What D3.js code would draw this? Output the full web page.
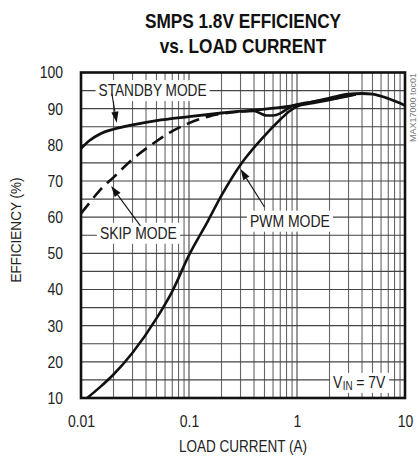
<!DOCTYPE html>
<html>
<head>
<meta charset="utf-8">
<script src="https://cdn.jsdelivr.net/npm/d3@7"></script>
<style>
  html, body { margin: 0; padding: 0; background: #fff; }
  svg { display: block; }
  text { font-family: "Liberation Sans", Arial, sans-serif; fill: #222; }
</style>
</head>
<body>
<svg id="chart" width="418" height="456"></svg>
<script>
// ---- data ----
const titleLines = ["SMPS 1.8V EFFICIENCY", "vs. LOAD CURRENT"];
const xTickValues = [0.01, 0.1, 1, 10];
const xTickLabels = ["0.01", "0.1", "1", "10"];
const yTickValues = [10, 20, 30, 40, 50, 60, 70, 80, 90, 100];
const yTickLabels = ["10", "20", "30", "40", "50", "60", "70", "80", "90", "100"];

const standbyX = [0.01, 0.012, 0.015, 0.02, 0.03, 0.05, 0.1, 0.2, 0.5, 1, 2, 3, 4, 5, 7, 10];
const standbyY = [79, 81.2, 83, 84.3, 85.5, 86.7, 87.8, 88.8, 89.9, 91, 92.9, 94.0, 94.2, 94.0, 92.8, 90.9];

const skipDashX = [0.01, 0.012, 0.015, 0.02, 0.03, 0.05, 0.07, 0.1, 0.15, 0.2, 0.3];
const skipDashY = [61, 64, 67.5, 71, 76, 81, 83.8, 86, 87.8, 88.6, 89.2];

const skipSolidX = [0.3, 0.4, 0.45, 0.52, 0.6, 0.7, 0.8, 0.92, 1.2, 1.6, 2, 3, 3.5];
const skipSolidY = [89.2, 89.4, 88.8, 88.1, 88.1, 88.7, 89.8, 90.9, 91.6, 92.2, 92.6, 93.6, 93.9];

const pwmX = [0.0114, 0.015, 0.02, 0.03, 0.05, 0.07, 0.1, 0.15, 0.2, 0.3, 0.5, 0.7, 0.85, 1, 1.5, 2, 3, 3.5];
const pwmY = [10, 13, 16.5, 22.5, 32, 39.5, 49.5, 59, 66, 74.5, 82.5, 87, 89.3, 90.6, 91.7, 92.4, 93.5, 93.9];

// annotations: label, anchor (data), arrow tail & tip (data)
const labels = [
  { text: "STANDBY MODE", x: 0.046, y: 95, dy: 0, w: 108,
    arrow: [[0.0193, 94.2], [0.0214, 86.1]] },
  { text: "SKIP MODE", x: 0.034, y: 55, dy: -2, w: 77,
    arrow: [[0.0355, 57.6], [0.019, 68.6]] },
  { text: "PWM MODE", x: 0.86, y: 60, dy: 4, w: 80,
    arrow: [[0.5, 62.8], [0.3, 73.3]] }
];

// ---- layout ----
const svg = d3.select("#chart");
const margin = { left: 81, right: 13, top: 72.5, bottom: 58 };
const W = 418, H = 456;
const x = d3.scaleLog().domain([0.01, 10]).range([margin.left, W - margin.right]);
const y = d3.scaleLinear().domain([10, 100]).range([H - margin.bottom, margin.top]);

// horizontally condense text (no narrow font installed)
function condense(sel, f) {
  sel.each(function () {
    const len = this.getComputedTextLength();
    d3.select(this).attr("textLength", len * f).attr("lengthAdjust", "spacingAndGlyphs");
  });
}
function fitWidth(sel, w) {
  sel.attr("textLength", w).attr("lengthAdjust", "spacingAndGlyphs");
}

// title
svg.append("g").selectAll("text").data(titleLines).join("text")
  .attr("x", 243).attr("y", (d, i) => 28 + i * 25)
  .attr("text-anchor", "middle")
  .style("font-size", "21px").style("font-weight", "bold").style("fill", "#111")
  .text(d => d)
  .call(condense, 0.82);

// grid
const gridX = [];
for (let dec = 0.01; dec < 10; dec *= 10) for (let k = 2; k <= 9; k++) gridX.push(dec * k);
const gridY = d3.range(15, 100, 5);

const g = svg.append("g");
g.append("g").selectAll("line").data(gridX).join("line")
  .attr("x1", d => x(d)).attr("x2", d => x(d))
  .attr("y1", y(10)).attr("y2", y(100))
  .attr("stroke", "#666").attr("stroke-width", 1.1);
g.append("g").selectAll("line").data(gridY).join("line")
  .attr("x1", x(0.01)).attr("x2", x(10))
  .attr("y1", d => y(d)).attr("y2", d => y(d))
  .attr("stroke", "#444").attr("stroke-width", 1.1);
g.append("g").selectAll("line").data([0.1, 1]).join("line")
  .attr("x1", d => x(d)).attr("x2", d => x(d))
  .attr("y1", y(10)).attr("y2", y(100))
  .attr("stroke", "#444").attr("stroke-width", 1.1);

// label boxes (white behind text)
const lblG = svg.append("g");
labels.forEach(l => {
  const t = lblG.append("text")
    .attr("x", x(l.x)).attr("y", y(l.y) + l.dy)
    .attr("text-anchor", "middle").attr("dominant-baseline", "central")
    .style("font-size", "17px").text(l.text)
    .call(fitWidth, l.w);
  const bb = t.node().getBBox();
  lblG.insert("rect", "text")
    .attr("x", bb.x - 3).attr("y", bb.y - 1)
    .attr("width", bb.width + 6).attr("height", bb.height + 2)
    .attr("fill", "#fff");
});

// VIN label (separate pieces: V, subscript IN, = 7V)
const vin = svg.append("g");
const vy = y(15) + 3;
const vRect = vin.append("rect").attr("fill", "#fff");
const v1 = vin.append("text").attr("x", 333).attr("y", vy).attr("dominant-baseline", "central")
  .style("font-size", "17px").text("V").call(condense, 0.82);
const v1w = v1.node().getComputedTextLength();
const v2 = vin.append("text").attr("x", 333 + v1w + 0.5).attr("y", vy + 3).attr("dominant-baseline", "central")
  .style("font-size", "12px").text("IN").call(condense, 0.82);
const v2w = v2.node().getComputedTextLength();
const v3 = vin.append("text").attr("x", 333 + v1w + v2w + 4).attr("y", vy).attr("dominant-baseline", "central")
  .style("font-size", "17px").text("= 7V").call(condense, 0.82);
const v3w = v3.node().getComputedTextLength();
vRect.attr("x", 330).attr("y", vy - 10).attr("width", v1w + v2w + v3w + 11).attr("height", 20);

// curves
const line = d3.line().x(d => x(d[0])).y(d => y(d[1])).curve(d3.curveMonotoneX);
const zip = (a, b) => a.map((v, i) => [v, b[i]]);
const curves = svg.append("g").attr("fill", "none").attr("stroke", "#111")
  .attr("stroke-linecap", "butt").attr("stroke-linejoin", "round");
curves.append("path").attr("d", line(zip(pwmX, pwmY))).attr("stroke-width", 2.6);
curves.append("path").attr("d", line(zip(skipSolidX, skipSolidY))).attr("stroke-width", 2.6);
curves.append("path").attr("d", line(zip(skipDashX, skipDashY))).attr("stroke-width", 2.6)
  .attr("stroke-dasharray", "13,7");
curves.append("path").attr("d", line(zip(standbyX, standbyY))).attr("stroke-width", 2.8);

// arrows
const arrG = svg.append("g");
labels.forEach(l => {
  const [t0, t1] = l.arrow;
  const x0 = x(t0[0]), y0 = y(t0[1]), x1 = x(t1[0]), y1 = y(t1[1]);
  const ang = Math.atan2(y1 - y0, x1 - x0);
  const len = 11, hw = 3.6;
  const bx = x1 - len * Math.cos(ang), by = y1 - len * Math.sin(ang);
  arrG.append("line").attr("x1", x0).attr("y1", y0).attr("x2", bx).attr("y2", by)
    .attr("stroke", "#111").attr("stroke-width", 1.1);
  const px = -Math.sin(ang) * hw, py = Math.cos(ang) * hw;
  arrG.append("path")
    .attr("d", `M${x1},${y1}L${bx + px},${by + py}L${bx - px},${by - py}Z`)
    .attr("fill", "#111");
});

// frame
svg.append("rect").attr("x", x(0.01)).attr("y", y(100))
  .attr("width", x(10) - x(0.01)).attr("height", y(10) - y(100))
  .attr("fill", "none").attr("stroke", "#111").attr("stroke-width", 2.6);

// axes labels
const axX = d3.axisBottom(x).tickValues(xTickValues).tickFormat((d, i) => xTickLabels[i]).tickSize(0).tickPadding(17);
const gx = svg.append("g").attr("transform", `translate(0,${y(10)})`).call(axX);
gx.select(".domain").remove();
gx.selectAll("text").style("font-size", "17px").style("font-family", null).attr("fill", "#222")
  .call(condense, 0.82);

const axY = d3.axisLeft(y).tickValues(yTickValues).tickFormat((d, i) => yTickLabels[i]).tickSize(0).tickPadding(18);
const gy = svg.append("g").attr("transform", `translate(${x(0.01)},0)`).call(axY);
gy.select(".domain").remove();
gy.selectAll("text").style("font-size", "17px").style("font-family", null).attr("fill", "#222")
  .call(condense, 0.82);

svg.append("text").attr("x", 243).attr("y", 452).attr("text-anchor", "middle")
  .style("font-size", "16px").text("LOAD CURRENT (A)").call(fitWidth, 128);
svg.append("text").attr("transform", `translate(21,230) rotate(-90)`)
  .attr("text-anchor", "middle").style("font-size", "15px").text("EFFICIENCY (%)").call(fitWidth, 105);

svg.append("text").attr("transform", "translate(416,142) rotate(-90)")
  .style("font-size", "8.5px").style("fill", "#777").text("MAX17000 toc01").call(fitWidth, 69);
</script>
</body>
</html>
